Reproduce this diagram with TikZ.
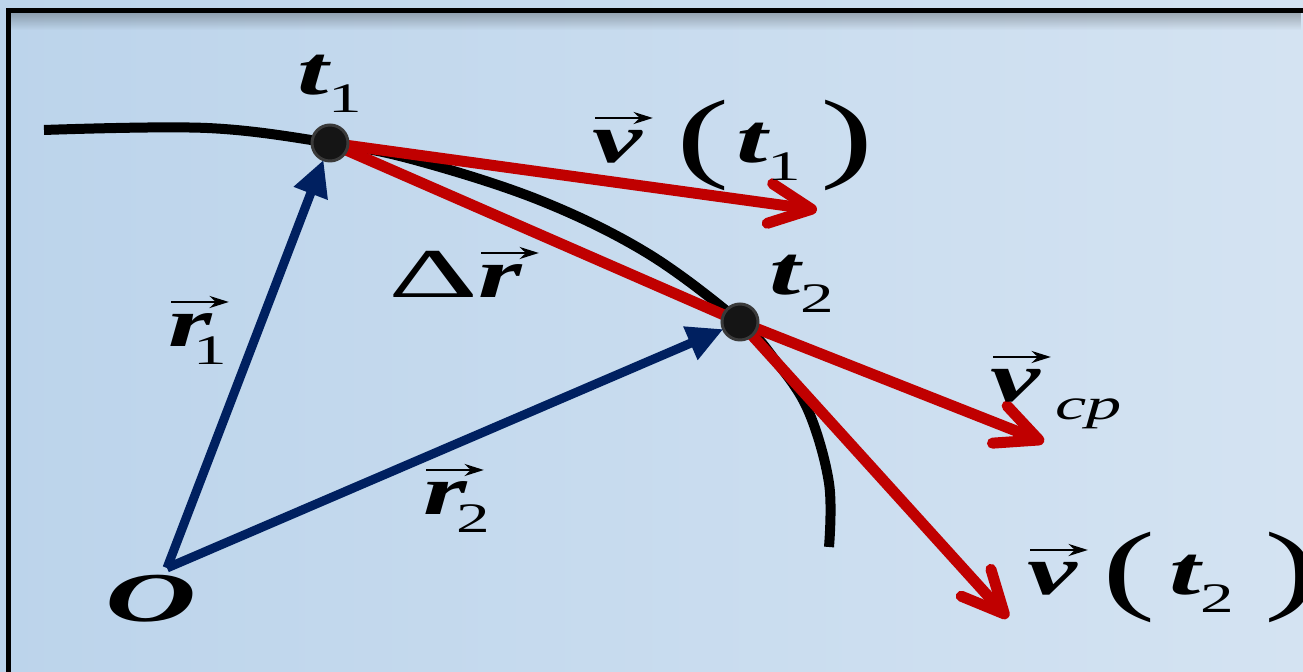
\RequirePackage{fix-cm}
\documentclass[tikz,border=0pt]{standalone}
\usepackage{fontspec}
\setmainfont{Liberation Serif}
\usepackage{graphicx}
\usetikzlibrary{arrows.meta, fadings}
\pgfdeclarelayer{back}
\pgfsetlayers{back,main}

\begin{document}
\begin{tikzpicture}[
    x=0.5pt, y=0.5pt,
    every node/.style={inner sep=0pt, outer sep=0pt},
    dot/.style={circle, fill=dotcolor, draw=dotedge, line width=1.5pt, minimum size=18pt},
    pathline/.style={line width=5pt, black},
    posvec/.style={line width=4.5pt, navy, -{Triangle[length=18pt, width=17pt]}},
    velvec/.style={line width=5.5pt, redvec, line cap=round, -{Straight Barb[length=21pt, width=20pt, round]}},
    chord/.style={line width=5.5pt, redvec, line cap=round},
    lbl/.style={anchor=base west, font=\fontsize{35}{40}\selectfont},
]

\definecolor{bgleft}{HTML}{BCD4EB}
\definecolor{bgright}{HTML}{D4E3F2}
\definecolor{navy}{HTML}{002060}
\definecolor{redvec}{HTML}{C00000}
\definecolor{dotcolor}{HTML}{151515}
\definecolor{dotedge}{HTML}{3A3A3A}

\def\wide#1{\scalebox{1.6}[1]{#1}}
\def\bi#1{{\bfseries\itshape #1}}
\def\vt#1{\rlap{\hspace{0.5pt}\raisebox{22.5pt}{\tikz[baseline={(0pt,0pt)}]
    \draw[black, line width=1pt, -{Stealth[length=6pt, width=6pt]}] (0pt,0pt) -- (18pt,0pt);}}\bi{#1}}
\def\lowsub#1{\raisebox{-9pt}{\fontsize{21}{22}\selectfont #1}}
\def\paren#1{\raisebox{-3.5pt}{\fontsize{50}{50}\selectfont #1}}

% ================================================================
%   all coordinates in pixels of a 1303 x 672 frame, y downwards
% ================================================================
\useasboundingbox (0,0) rectangle (1303,-672);
\clip (0,0) rectangle (1303,-672);

% ---------------------------------------------------------------- the two points
\node[dot] (t1dot) at (330,-143) {};
\node[dot] (t2dot) at (740,-322) {};
\coordinate (O) at (167,-568);
\coordinate (v1tip) at (817,-210);
\coordinate (vcptip) at (1044,-442);
\coordinate (v2tip) at (1008,-618);

\begin{pgfonlayer}{back}
% ---------------------------------------------------------------- background and frame
\shade[left color=bgleft, right color=bgright] (0,0) rectangle (1303,-672);
\fill[black, opacity=0.25, path fading=south] (11,-13) rectangle (1303,-30);
\draw[line width=2.5pt] (8.5,-700) |- (1320,-10.5);

% ---------------------------------------------------------------- trajectory
\draw[pathline] plot[smooth, tension=0.6] coordinates {(44,-130) (207,-128) (330,-143)
    (415,-160) (539,-200) (647,-253) (740,-322) (775,-360) (808,-410) (829,-483) (829,-547)};

% ---------------------------------------------------------------- red vectors
\draw[chord] (t1dot.center) -- (t2dot.center);
\draw[velvec] (t1dot.center) -- (v1tip);
\draw[velvec] (t2dot.center) -- (vcptip);
\draw[velvec] (t2dot.center) -- (v2tip);
\end{pgfonlayer}

% ---------------------------------------------------------------- position vectors
\draw[posvec] (O) -- (t1dot);
\draw[posvec] (O) -- (t2dot);

% ---------------------------------------------------------------- labels
\node[lbl] (t1lbl) at (297,-95) {\wide{\bi{t}\lowsub{1}}};
\node[lbl] (t2lbl) at (769,-295) {\wide{\bi{t}\lowsub{2}}};
\node[lbl] (v1lbl) at (592,-163)
    {\wide{\vt{v}\hspace{11pt}\paren{(}\hspace{2pt}\bi{t}\lowsub{1}\hspace{6pt}\paren{)}}};
\node[lbl] (vcplbl) at (990,-402)
    {\wide{\vt{v}\hspace{5pt}\lowsub{\fontsize{22}{22}\selectfont\itshape cp}}};
\node[lbl] (v2lbl) at (1027,-595)
    {\wide{\vt{v}\hspace{8pt}\paren{(}\hspace{4.4pt}\bi{t}\lowsub{2}\hspace{9.5pt}\paren{)}}};
\node[lbl] (drlbl) at (388,-298) {\wide{\scalebox{1.25}[1]{Δ}\vt{r}}};
\node[lbl] (r1lbl) at (168,-347) {\wide{\vt{r}\hspace{-5.6pt}\lowsub{1}}};
\node[lbl] (r2lbl) at (423,-515) {\wide{\vt{r}\hspace{-3.3pt}\lowsub{2}}};
\node[lbl] (Olbl) at (105,-622) {\scalebox{1.8}[1]{\bi{O}}};

\end{tikzpicture}
\end{document}
